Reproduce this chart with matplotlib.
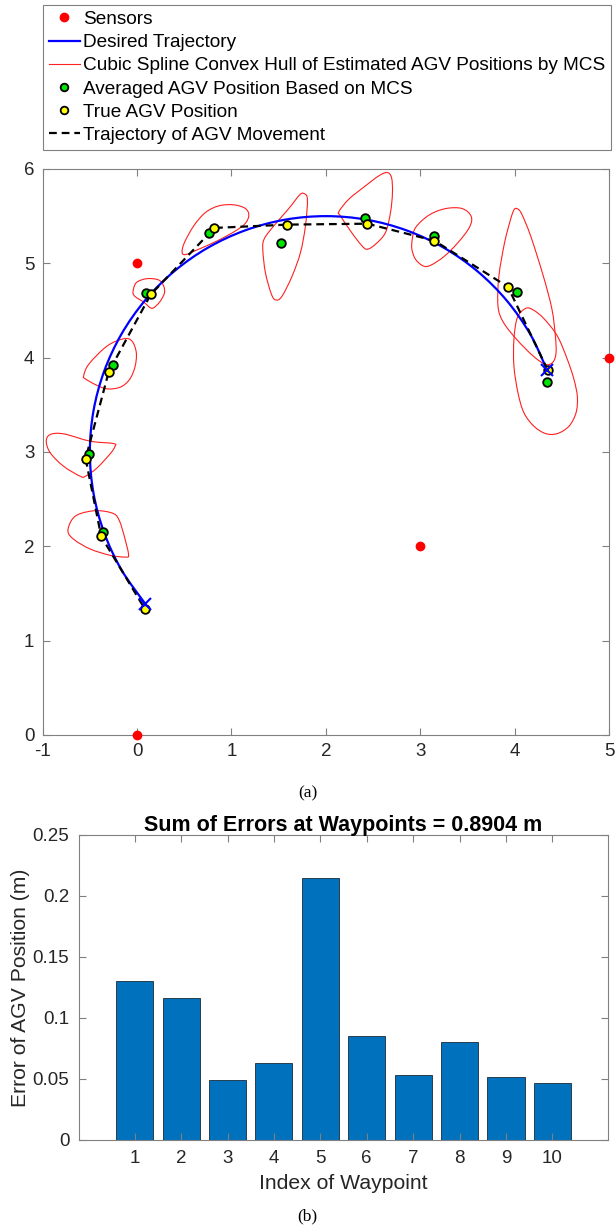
import matplotlib
matplotlib.use('Agg')
import numpy as np
import matplotlib.pyplot as plt
from matplotlib.lines import Line2D
from matplotlib.path import Path
from matplotlib.patches import PathPatch

plt.rcParams['font.family'] = ['Liberation Sans', 'DejaVu Sans']
plt.rcParams['axes.unicode_minus'] = False

# Sensor locations
sensor_x = [0, 0, 3, 5]
sensor_y = [0, 5, 2, 4]

# Desired trajectory
desired_x = [0.085, -0.165, -0.349, -0.462, -0.5, -0.462, -0.349, -0.165, 0.085, 0.393, 0.75,
             1.145, 1.566, 2.0, 2.434, 2.855, 3.25, 3.607, 3.915, 4.165, 4.345]
desired_y = [1.393, 1.75, 2.145, 2.566, 3.0, 3.434, 3.855, 4.25, 4.607, 4.915, 5.165,
             5.349, 5.462, 5.5, 5.462, 5.349, 5.165, 4.915, 4.607, 4.25, 3.867]

# Averaged AGV positions from MCS (waypoints 1..10)
avg_x = [4.34, 4.03, 3.15, 2.41, 1.52, 0.76, 0.09, -0.26, -0.51, -0.365]
avg_y = [3.74, 4.70, 5.29, 5.48, 5.21, 5.32, 4.68, 3.92, 2.975, 2.15]

# True AGV positions (waypoints 1..10 plus final position)
true_x = [4.35, 3.93, 3.15, 2.44, 1.59, 0.82, 0.145, -0.30, -0.545, -0.38, 0.08]
true_y = [3.87, 4.75, 5.24, 5.42, 5.41, 5.375, 4.67, 3.85, 2.93, 2.105, 1.34]

# Outlines of the cubic spline convex hulls (x, y)
hull_wp1 = [(4.117, 4.522), (4.198, 4.505), (4.311, 4.413), (4.453, 4.229), (4.559, 3.981),
            (4.629, 3.769), (4.665, 3.585), (4.651, 3.415), (4.576, 3.273), (4.453, 3.195),
            (4.329, 3.195), (4.205, 3.273), (4.099, 3.415), (4.036, 3.627), (3.993, 3.910),
            (3.993, 4.193), (4.029, 4.423)]
hull_wp2 = [(4.022, 5.580), (4.071, 5.531), (4.170, 5.290), (4.304, 4.866), (4.396, 4.512),
            (4.432, 4.229), (4.439, 4.052), (4.407, 3.953), (4.329, 3.928), (4.198, 4.016),
            (4.022, 4.193), (3.880, 4.377), (3.824, 4.547), (3.834, 4.866), (3.894, 5.219),
            (3.958, 5.467), (3.993, 5.566)]
hull_wp3 = [(2.916, 5.255), (2.951, 5.379), (3.092, 5.510), (3.269, 5.580), (3.446, 5.580),
            (3.541, 5.495), (3.520, 5.379), (3.400, 5.219), (3.251, 5.071), (3.110, 4.979),
            (3.032, 4.972), (2.951, 5.042), (2.912, 5.149)]
hull_wp4 = [(2.137, 5.545), (2.243, 5.679), (2.420, 5.821), (2.561, 5.927), (2.650, 5.962),
            (2.696, 5.909), (2.706, 5.750), (2.685, 5.538), (2.632, 5.326), (2.526, 5.202),
            (2.438, 5.149), (2.378, 5.191), (2.279, 5.318), (2.155, 5.502)]
hull_wp5 = [(1.766, 5.740), (1.805, 5.679), (1.784, 5.396), (1.731, 5.113), (1.643, 4.865),
            (1.537, 4.653), (1.473, 4.611), (1.424, 4.671), (1.360, 4.901), (1.332, 5.149),
            (1.349, 5.262), (1.448, 5.396), (1.607, 5.580), (1.720, 5.722)]
hull_wp6 = [(0.477, 5.120), (0.502, 5.220), (0.600, 5.396), (0.724, 5.538), (0.866, 5.609),
            (1.025, 5.620), (1.148, 5.581), (1.184, 5.510), (1.148, 5.425), (1.042, 5.343),
            (0.848, 5.237), (0.636, 5.142), (0.512, 5.092)]
hull_wp7 = [(-0.043, 4.696), (-0.008, 4.795), (0.105, 4.837), (0.229, 4.823), (0.282, 4.759),
            (0.289, 4.681), (0.239, 4.589), (0.176, 4.529), (0.140, 4.529), (0.070, 4.589),
            (-0.019, 4.646)]
hull_wp8 = [(-0.566, 3.804), (-0.513, 3.928), (-0.319, 4.122), (-0.142, 4.200), (-0.054, 4.175),
            (-0.008, 4.052), (-0.022, 3.903), (-0.079, 3.769), (-0.178, 3.687), (-0.319, 3.669),
            (-0.443, 3.715), (-0.549, 3.776)]
hull_wp9 = [(-0.962, 3.114), (-0.919, 3.185), (-0.778, 3.192), (-0.495, 3.114), (-0.248, 3.089),
            (-0.237, 3.054), (-0.283, 2.983), (-0.424, 2.831), (-0.548, 2.742), (-0.601, 2.742),
            (-0.778, 2.848), (-0.919, 2.990)]
hull_wp10 = [(-0.732, 2.158), (-0.690, 2.282), (-0.602, 2.346), (-0.425, 2.378), (-0.248, 2.346),
             (-0.185, 2.265), (-0.135, 2.105), (-0.090, 1.911), (-0.125, 1.886), (-0.284, 1.904),
             (-0.496, 1.971), (-0.666, 2.070)]
hulls = [hull_wp1, hull_wp2, hull_wp3, hull_wp4, hull_wp5,
         hull_wp6, hull_wp7, hull_wp8, hull_wp9, hull_wp10]

# Error per waypoint (bar chart)
waypoint_idx = [1, 2, 3, 4, 5, 6, 7, 8, 9, 10]
errors = [0.1306, 0.1161, 0.0492, 0.0628, 0.2145, 0.0852, 0.0535, 0.0803, 0.0514, 0.0470]

axis_gray = '#808080'
text_gray = '#262626'
fs = 13.5
label_fs = 15.2


def smooth_path(pts, closed):
    # bezier path through the given points (drawn by matplotlib as curves)
    pts = np.asarray(pts, dtype=float)
    n = len(pts)
    verts = [pts[0]]
    codes = [Path.MOVETO]
    nseg = n if closed else n - 1
    for i in range(nseg):
        p1 = pts[i]
        p2 = pts[(i + 1) % n]
        p0 = pts[(i - 1) % n] if (closed or i > 0) else p1
        p3 = pts[(i + 2) % n] if (closed or i + 2 < n) else p2
        verts += [p1 + (p2 - p0) / 6, p2 - (p3 - p1) / 6, p2]
        codes += [Path.CURVE4] * 3
    return Path(verts, codes)


def style_axes(ax, pad=6):
    for s in ax.spines.values():
        s.set_color(axis_gray)
        s.set_linewidth(0.8)
    ax.tick_params(direction='in', length=5, width=0.8, color=axis_gray,
                   top=True, right=True, labelsize=fs, labelcolor=text_gray, pad=pad)


fig = plt.figure(figsize=(6.15, 12.28), dpi=100)

# ---- (a) trajectory plot ----
ax1 = fig.add_axes([0.0694, 0.4015, 0.9208, 0.4609])
for h in hulls:
    ax1.add_patch(PathPatch(smooth_path(h, True), fill=False, edgecolor='#ff2020',
                            lw=0.8, zorder=2))
ax1.add_patch(PathPatch(smooth_path(list(zip(desired_x, desired_y)), False), fill=False,
                        edgecolor='#0000ff', lw=1.6, zorder=3))
ax1.plot([desired_x[0], desired_x[-1]], [desired_y[0], desired_y[-1]], ls='none',
         marker='x', ms=8, mew=1.5, color='#0000ff', zorder=8)
ax1.plot(true_x, true_y, color='black', lw=1.6, ls=(0, (3.5, 2.2)), zorder=4)
ax1.plot(avg_x, avg_y, ls='none', marker='o', ms=6.2, mfc='#00e600', mec='black', mew=1.3, zorder=5)
ax1.plot(true_x, true_y, ls='none', marker='o', ms=6.2, mfc='#ffff00', mec='black', mew=1.3, zorder=6)
ax1.plot(sensor_x, sensor_y, ls='none', marker='o', ms=6, mfc='#ff0000', mec='#ff0000',
         clip_on=False, zorder=9)
ax1.set_xlim(-1, 5)
ax1.set_ylim(0, 6)
ax1.set_xticks(range(-1, 6))
ax1.set_yticks(range(0, 7))
style_axes(ax1)

handles = [
    Line2D([], [], ls='none', marker='o', ms=6, mfc='#ff0000', mec='#ff0000'),
    Line2D([], [], color='#0000ff', lw=1.6),
    Line2D([], [], color='#ff2020', lw=0.8),
    Line2D([], [], ls='none', marker='o', ms=5.5, mfc='#00e600', mec='black', mew=1.3),
    Line2D([], [], ls='none', marker='o', ms=5.5, mfc='#ffff00', mec='black', mew=1.3),
    Line2D([], [], color='black', lw=1.6, ls=(0, (3.5, 2.2))),
]
labels = ['Sensors', 'Desired Trajectory',
          'Cubic Spline Convex Hull of Estimated AGV Positions by MCS',
          'Averaged AGV Position Based on MCS', 'True AGV Position',
          'Trajectory of AGV Movement']
leg = fig.legend(handles, labels, loc='upper left', bbox_to_anchor=(43 / 615, 1 - 5 / 1228),
                 fontsize=13.7, frameon=True, fancybox=False, framealpha=1, edgecolor=axis_gray,
                 handlelength=1.65, handletextpad=0.15, labelspacing=0.31, borderpad=0.3,
                 borderaxespad=0)
leg.get_frame().set_linewidth(0.8)

fig.text(0.5, 1 - 793 / 1228, '(a)', ha='center', va='center', fontsize=12.5,
         family='Liberation Serif')

# ---- (b) error bars ----
ax2 = fig.add_axes([0.1285, 0.0717, 0.8602, 0.2484])
ax2.bar(waypoint_idx, errors, width=0.8, color='#0072bd', edgecolor='#1a2a3a', linewidth=0.6)
ax2.set_xlim(-0.2, 11.2)
ax2.set_ylim(0, 0.25)
ax2.set_xticks(waypoint_idx)
ax2.set_yticks([0, 0.05, 0.1, 0.15, 0.2, 0.25])
ax2.set_yticklabels(['0', '0.05', '0.1', '0.15', '0.2', '0.25'])
style_axes(ax2, pad=7)
ax2.set_title('Sum of Errors at Waypoints = %.4f m' % 0.8904, fontsize=15.5,
              fontweight='bold', pad=3)
ax2.set_xlabel('Index of Waypoint', fontsize=label_fs, color=text_gray, labelpad=5)
ax2.set_ylabel('Error of AGV Position (m)', fontsize=label_fs, color=text_gray, labelpad=2)

fig.text(0.5, 1 - 1216 / 1228, '(b)', ha='center', va='center', fontsize=12.5,
         family='Liberation Serif')

fig.savefig('out.png', dpi=100)
